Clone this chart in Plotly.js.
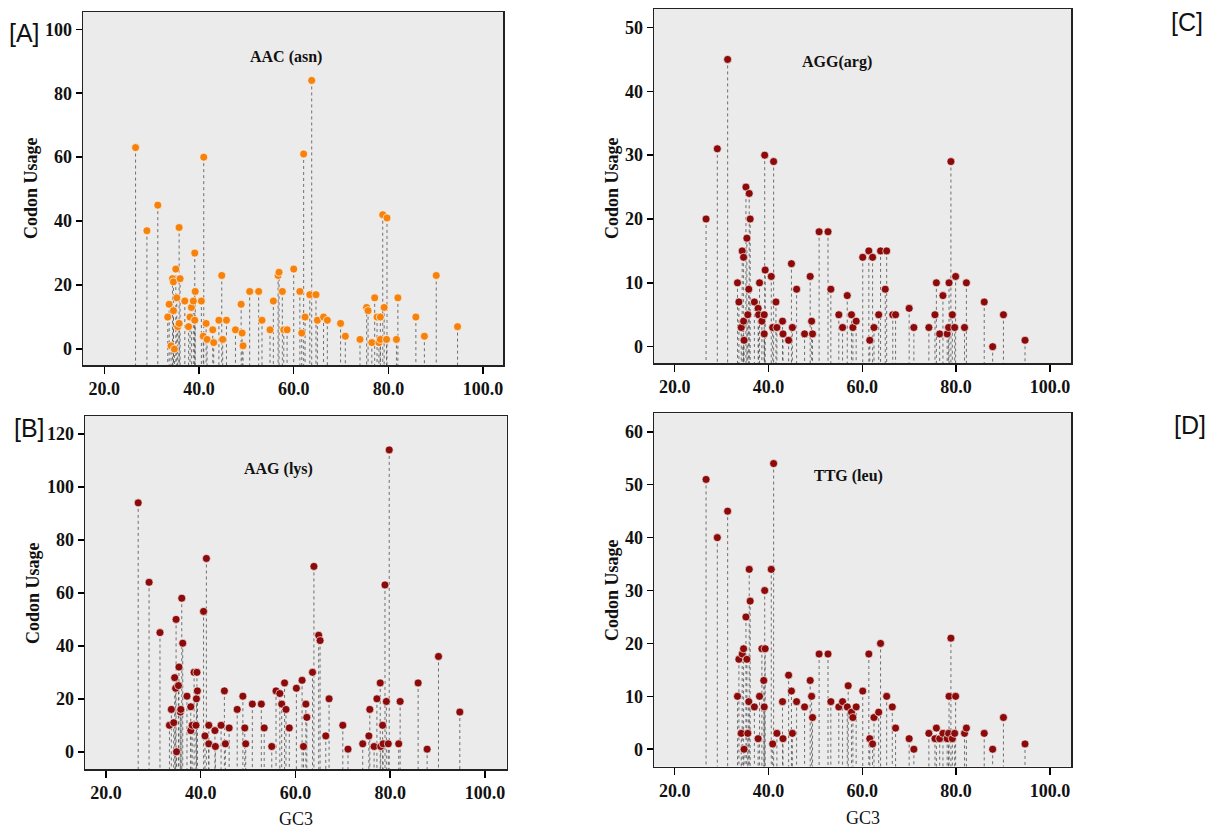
<!DOCTYPE html>
<html>
<head>
<meta charset="utf-8">
<script src="https://cdn.plot.ly/plotly-3.0.1.min.js"></script>
<style>html,body{margin:0;padding:0;background:#fff;}#chart{width:1218px;height:829px;}</style>
</head>
<body>
<div id="chart"></div>
<script>
// Panel A: AAC (asn)
const gcA = [26.6,29.0,31.3,33.4,33.7,34.1,34.4,34.6,34.6,34.8,35.1,35.3,35.5,35.8,35.8,36.0,37.0,37.8,38.1,38.4,38.8,39.1,39.1,39.2,40.5,40.9,41.0,41.5,41.7,42.9,43.1,44.2,44.8,45.0,45.8,47.7,48.9,49.1,49.3,50.7,52.6,53.3,55.0,55.7,56.7,56.9,57.6,57.9,58.6,60.0,61.3,61.7,62.1,62.4,63.4,63.8,64.7,65.0,66.3,67.1,69.9,70.9,74.0,75.4,75.7,76.5,77.1,77.6,78.0,78.3,78.3,78.8,79.1,79.6,79.7,81.7,82.0,85.8,87.6,90.1,94.6];
const usageA = [63,37,45,10,14,1,22,21,12,0,25,16,7,8,38,22,15,7,10,13,15,9,30,18,15,4,60,8,3,6,2,9,23,3,9,6,14,5,1,18,18,9,6,15,23,24,18,6,6,25,18,5,61,10,17,84,17,9,10,9,8,4,3,13,12,2,16,10,2,10,3,42,13,3,41,3,16,10,4,23,7];

// Panel B: AAG (lys)
const gcB = [26.8,29.1,31.4,33.4,33.8,34.3,34.5,34.7,34.8,34.9,35.3,35.4,35.7,35.8,36.0,36.2,37.1,37.9,37.9,38.2,38.6,39.0,39.1,39.2,39.3,40.6,40.9,41.2,41.7,41.7,43.0,43.1,44.3,45.0,45.2,46.0,47.7,48.9,49.3,49.5,50.9,52.8,53.4,55.0,55.9,56.7,57.1,57.7,58.0,58.7,60.2,61.4,61.7,62.2,62.4,63.6,63.9,64.9,65.2,66.4,67.1,70.0,71.1,74.2,75.5,75.7,76.6,77.2,77.9,78.0,78.4,78.5,78.9,79.2,79.6,79.8,81.8,82.1,85.9,87.8,90.2,94.7];
const usageB = [94,64,45,10,16,11,28,24,50,0,25,32,15,16,58,41,21,8,17,10,30,10,20,30,23,53,6,73,10,3,8,2,10,23,3,9,16,21,9,3,18,18,9,2,23,22,18,26,16,9,24,27,2,18,13,30,70,44,42,6,20,10,1,3,6,16,2,20,26,2,10,3,63,19,3,114,3,19,26,1,36,15];

// Panel C: AGG (arg)
const gcC = [26.7,29.1,31.3,33.4,33.7,34.2,34.4,34.7,34.7,34.8,35.2,35.4,35.6,35.8,35.9,36.1,37.0,37.8,37.9,38.1,38.6,39.1,39.1,39.2,39.3,40.6,40.9,41.1,41.6,41.8,43.0,43.1,44.3,44.9,45.1,46.0,47.7,48.9,49.2,49.4,50.8,52.7,53.3,55.0,55.8,56.8,57.7,58.0,58.7,60.1,61.4,61.6,62.2,62.5,63.5,63.9,64.9,65.2,66.5,67.1,70.0,71.0,74.2,75.5,75.8,76.5,77.2,78.1,78.4,78.5,78.9,79.2,79.7,79.9,81.8,82.2,86.0,87.8,90.1,94.7];
const usageC = [20,31,45,10,7,3,15,14,4,1,25,17,5,9,24,20,7,6,5,10,4,5,2,30,12,11,3,29,7,3,4,2,1,13,3,9,2,11,4,2,18,18,9,5,3,8,5,3,4,14,15,1,14,3,5,15,9,15,5,5,6,3,3,5,10,2,8,2,3,10,29,5,3,11,3,10,7,0,5,1];

// Panel D: TTG (leu)
const gcD = [26.7,29.1,31.3,33.4,33.7,34.2,34.4,34.7,34.8,35.2,35.4,35.6,35.8,35.9,36.1,37.0,37.8,38.1,38.6,39.0,39.1,39.2,39.3,40.6,40.9,41.1,41.8,43.0,43.1,44.3,44.9,45.1,46.0,47.7,48.9,49.2,49.4,50.8,52.7,53.3,55.0,55.8,56.8,57.0,57.7,58.0,58.7,60.1,61.4,61.6,62.2,62.5,63.5,63.9,65.2,66.4,67.1,70.0,71.0,74.2,75.5,75.8,76.5,77.2,78.1,78.4,78.5,78.9,79.2,79.7,79.9,81.8,82.2,86.0,87.8,90.1,94.7];
const usageD = [51,40,45,10,17,3,18,19,0,25,17,3,9,34,28,8,2,10,19,13,8,30,19,34,1,54,3,9,2,14,11,3,9,8,13,10,6,18,18,9,8,9,8,12,7,6,8,11,18,2,1,6,7,20,10,8,4,2,0,3,2,4,2,3,2,3,10,21,2,3,10,3,4,3,0,6,1];

const codonLabels = ["AAC (asn)", "AAG (lys)", "AGG(arg)", "TTG (leu)"];
const panelLabels = ["[A]", "[B]", "[C]", "[D]"];
const xTitle = "GC3";
const yTitle = "Codon Usage";

const ORANGE = "#f5820c";
const DARKRED = "#8b0a0a";

const panels = [
  {gc: gcA, u: usageA, xa: "x",  ya: "y",  color: ORANGE,  yr: [-5.0, 105.4]},
  {gc: gcB, u: usageB, xa: "x3", ya: "y3", color: DARKRED, yr: [-6.5, 126.8]},
  {gc: gcC, u: usageC, xa: "x2", ya: "y2", color: DARKRED, yr: [-2.56, 52.9]},
  {gc: gcD, u: usageD, xa: "x4", ya: "y4", color: DARKRED, yr: [-3.3, 63.5]}
];

const traces = [];
panels.forEach(p => {
  const lx = [], ly = [];
  p.gc.forEach((g, i) => { lx.push(g, g, null); ly.push(p.u[i], p.yr[0], null); });
  traces.push({x: lx, y: ly, xaxis: p.xa, yaxis: p.ya, type: "scatter", mode: "lines",
    line: {color: "rgba(70,70,70,0.75)", width: 1, dash: "3px,3px"}, hoverinfo: "skip", showlegend: false});
  traces.push({x: p.gc, y: p.u, xaxis: p.xa, yaxis: p.ya, type: "scatter", mode: "markers",
    marker: {color: p.color, size: 8, line: {color: "rgba(255,255,255,0.8)", width: 0.8}}, showlegend: false});
});

const SERIF = "Liberation Serif";
const tickFont = {family: SERIF, size: 18, color: "#111", weight: "bold"};
function xax(domain, range, anchor) {
  return {domain: domain, range: range, anchor: anchor, dtick: 20, tick0: 20, tickformat: ".1f",
    ticks: "outside", ticklen: 7, tickwidth: 1.5, tickcolor: "#000", showline: true, linecolor: "#222",
    linewidth: 1.5, mirror: true, showgrid: false, zeroline: false, tickfont: tickFont};
}
function yax(domain, range, dtick, anchor) {
  return {domain: domain, range: range, anchor: anchor, dtick: dtick, tick0: 0,
    ticks: "outside", ticklen: 6, tickwidth: 1.5, tickcolor: "#000", showline: true, linecolor: "#222",
    linewidth: 1.5, mirror: true, showgrid: false, zeroline: false, tickfont: tickFont};
}

const serifB = {family: SERIF, size: 16, color: "#111", weight: "bold"};
const serifY = {family: SERIF, size: 18, color: "#111", weight: "bold"};
const lblFont = {family: "Liberation Sans", size: 25, color: "#111"};
function ann(text, x, y, font, extra) {
  return Object.assign({text: text, x: x, y: y, xref: "paper", yref: "paper", showarrow: false,
    xanchor: "center", yanchor: "middle", font: font}, extra || {});
}
const W = 1218, H = 829;
const px = v => v / W, py = v => 1 - v / H;

const annotations = [
  ann(panelLabels[0], px(24), py(33), lblFont),
  ann(panelLabels[2], px(1187), py(22), lblFont),
  ann(panelLabels[1], px(29), py(428), lblFont),
  ann(panelLabels[3], px(1190), py(425), lblFont),
  ann(codonLabels[0], px(286), py(57), serifB),
  ann(codonLabels[2], px(837), py(62), serifB),
  ann(codonLabels[1], px(278), py(469), serifB),
  ann(codonLabels[3], px(848), py(476), serifB),
  ann(yTitle, px(31), py(188), serifY, {textangle: -90}),
  ann(yTitle, px(612), py(188), serifY, {textangle: -90}),
  ann(yTitle, px(33), py(593), serifY, {textangle: -90}),
  ann(yTitle, px(612), py(590), serifY, {textangle: -90}),
  ann(xTitle, px(296), py(819), {family: SERIF, size: 18, color: "#111"}),
  ann(xTitle, px(863), py(818), {family: SERIF, size: 18, color: "#111"})
];

const layout = {
  width: W, height: H, margin: {l: 0, r: 0, t: 0, b: 0},
  paper_bgcolor: "#ffffff", plot_bgcolor: "#ebebeb", showlegend: false,
  font: {family: SERIF, size: 16},
  xaxis:  xax([83/W, 503/W], [15.5, 104.2], "y"),
  yaxis:  yax([1-365/H, 1-12/H], [-5.0, 105.4], 20, "x"),
  xaxis2: xax([654/W, 1071/W], [15.6, 104.5], "y2"),
  yaxis2: yax([1-363/H, 1-9/H], [-2.56, 52.9], 10, "x2"),
  xaxis3: xax([85/W, 506.7/W], [15.57, 104.6], "y3"),
  yaxis3: yax([1-769/H, 1-416/H], [-6.5, 126.8], 20, "x3"),
  xaxis4: xax([654/W, 1071/W], [15.6, 104.5], "y4"),
  yaxis4: yax([1-766.7/H, 1-413.3/H], [-3.3, 63.5], 10, "x4"),
  annotations: annotations
};

Plotly.newPlot("chart", traces, layout, {staticPlot: true, displayModeBar: false});
</script>
</body>
</html>
